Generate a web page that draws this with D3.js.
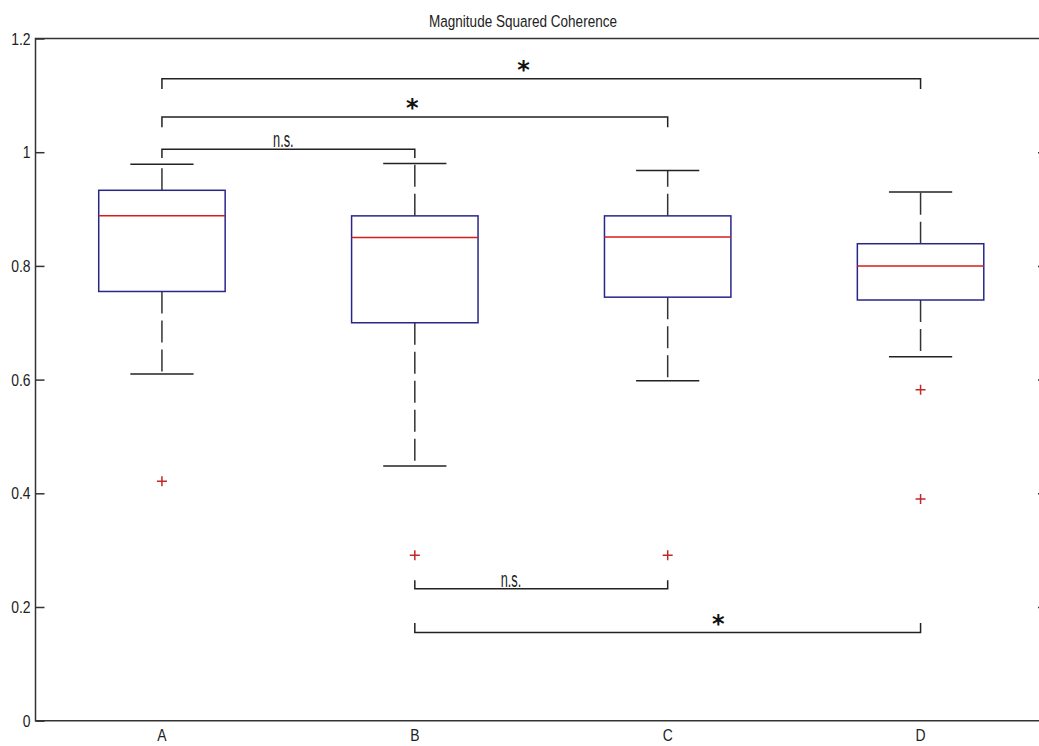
<!DOCTYPE html>
<html>
<head>
<meta charset="utf-8">
<script src="https://cdn.jsdelivr.net/npm/d3@7"></script>
<style>
  body { margin: 0; background: #fff; }
  svg { display: block; }
</style>
</head>
<body>
<script>
// box statistics
const groups = ["A", "B", "C", "D"];
const whiskerHigh = [0.979, 0.980, 0.968, 0.930];
const quart3 = [0.933, 0.888, 0.888, 0.839];
const medians = [0.888, 0.850, 0.851, 0.800];
const quart1 = [0.755, 0.700, 0.745, 0.740];
const whiskerLow = [0.610, 0.448, 0.598, 0.640];
const outliers = [["A", 0.421], ["B", 0.291], ["C", 0.291], ["D", 0.582], ["D", 0.390]];

// significance brackets: from, to, level, tick end, label, label position (group units)
const brackets = [
  {from: "A", to: "D", y: 1.129, end: 1.111, label: "*", at: 2.43},
  {from: "A", to: "C", y: 1.062, end: 1.044, label: "*", at: 1.99},
  {from: "A", to: "B", y: 1.005, end: 0.990, label: "n.s.", at: 1.48},
  {from: "B", to: "C", y: 0.232, end: 0.247, label: "n.s.", at: 2.38},
  {from: "B", to: "D", y: 0.155, end: 0.172, label: "*", at: 3.20}
];
const yTicks = [0, 0.2, 0.4, 0.6, 0.8, 1, 1.2];

const width = 1039, height = 746;
const margin = {top: 38.5, right: -8, bottom: 25.3, left: 35.5};
const font = "'Liberation Sans', Arial, sans-serif";
const narrow = 0.82; // no condensed face installed, squeeze the text instead

const svg = d3.select("body").append("svg")
    .attr("width", width)
    .attr("height", height);

const x = d3.scaleLinear([0.5, 4.5], [margin.left, width - margin.right]);
const y = d3.scaleLinear([0, 1.2], [height - margin.bottom, margin.top]);
const gx = g => x(groups.indexOf(g) + 1);

// condensed text at (px, py)
function label(sel, px, py, k = narrow) {
  return sel.attr("transform", `translate(${px},${py}) scale(${k},1)`)
      .attr("font-family", font)
      .attr("fill", "#222");
}

// frame
svg.append("path")
    .attr("fill", "none")
    .attr("stroke", "#333")
    .attr("stroke-width", 1.5)
    .attr("d", `M${x.range()[1]},${y(1.2)}H${x(0.5)}V${y(0)}H${x.range()[1]}`);

svg.append("g")
    .attr("transform", `translate(${x(0.5)},0)`)
    .call(d3.axisLeft(y).tickValues(yTicks).tickSize(-9).tickFormat(""))
    .call(g => g.select(".domain").remove())
    .call(g => g.selectAll("line").attr("stroke", "#333").attr("stroke-width", 1.5));

svg.append("g")
  .selectAll("text")
  .data(yTicks)
  .join("text")
    .call(s => s.each(function(d) { label(d3.select(this), x(0.5) - 5, y(d) + 6); }))
    .attr("text-anchor", "end")
    .attr("font-size", 17)
    .text(d3.format("~g"));

svg.append("g")
    .attr("transform", `translate(${x.range()[1]},0)`)
    .call(d3.axisRight(y).tickValues(yTicks.slice(1, -1)).tickSize(-9).tickFormat(""))
    .call(g => g.select(".domain").remove())
    .call(g => g.selectAll("line").attr("stroke", "#333").attr("stroke-width", 1.5));

svg.append("g")
  .selectAll("text")
  .data(groups)
  .join("text")
    .call(s => s.each(function(d) { label(d3.select(this), gx(d), y(0) + 20); }))
    .attr("text-anchor", "middle")
    .attr("font-size", 17)
    .text(d => d);

svg.append("text")
    .call(s => label(s, 523, 27))
    .attr("text-anchor", "middle")
    .attr("font-size", 16.5)
    .text("Magnitude Squared Coherence");

// boxes
const box = svg.append("g").selectAll("g")
  .data(groups)
  .join("g");

const boxW = x(1.25) - x(1), capW = x(1.125) - x(1);

box.append("line")
    .attr("x1", d => gx(d)).attr("x2", d => gx(d))
    .attr("y1", (d, i) => y(quart3[i])).attr("y2", (d, i) => y(whiskerHigh[i]))
    .attr("stroke", "#333").attr("stroke-width", 1.5).attr("stroke-dasharray", "22,7");

box.append("line")
    .attr("x1", d => gx(d)).attr("x2", d => gx(d))
    .attr("y1", (d, i) => y(quart1[i])).attr("y2", (d, i) => y(whiskerLow[i]))
    .attr("stroke", "#333").attr("stroke-width", 1.5).attr("stroke-dasharray", "22,7");

for (const w of [whiskerHigh, whiskerLow]) {
  box.append("line")
      .attr("x1", d => gx(d) - capW).attr("x2", d => gx(d) + capW)
      .attr("y1", (d, i) => y(w[i])).attr("y2", (d, i) => y(w[i]))
      .attr("stroke", "#222").attr("stroke-width", 1.5);
}

box.append("rect")
    .attr("x", d => gx(d) - boxW)
    .attr("width", 2 * boxW)
    .attr("y", (d, i) => y(quart3[i]))
    .attr("height", (d, i) => y(quart1[i]) - y(quart3[i]))
    .attr("fill", "none")
    .attr("stroke", "#27278a")
    .attr("stroke-width", 1.5);

box.append("line")
    .attr("x1", d => gx(d) - boxW).attr("x2", d => gx(d) + boxW)
    .attr("y1", (d, i) => y(medians[i])).attr("y2", (d, i) => y(medians[i]))
    .attr("stroke", "#d81c1c").attr("stroke-width", 1.5);

svg.append("g")
    .attr("stroke", "#c0282a")
    .attr("stroke-width", 1.5)
  .selectAll("path")
  .data(outliers)
  .join("path")
    .attr("d", ([g, v]) => `M${gx(g) - 5},${y(v)}h10M${gx(g)},${y(v) - 5}v10`);

// significance brackets
const br = svg.append("g").selectAll("g")
  .data(brackets)
  .join("g");

br.append("path")
    .attr("fill", "none")
    .attr("stroke", "#222")
    .attr("stroke-width", 1.5)
    .attr("d", d => `M${gx(d.from)},${y(d.end)}V${y(d.y)}H${gx(d.to)}V${y(d.end)}`);

// the n.s. marks are set in a very tall, thin face
br.filter(d => d.label !== "*").append("text")
    .call(s => s.each(function(d) { label(d3.select(this), x(d.at), y(d.y) - 2, 0.58); }))
    .attr("text-anchor", "middle")
    .attr("font-size", 22)
    .text(d => d.label);

br.filter(d => d.label === "*").append("text")
    .attr("x", d => x(d.at))
    .attr("y", d => y(d.y) - 1)
    .attr("text-anchor", "middle")
    .attr("font-family", "'DejaVu Sans', sans-serif")
    .attr("font-weight", "bold")
    .attr("font-size", 24)
    .attr("fill", "#111")
    .text(d => d.label);
</script>
</body>
</html>
